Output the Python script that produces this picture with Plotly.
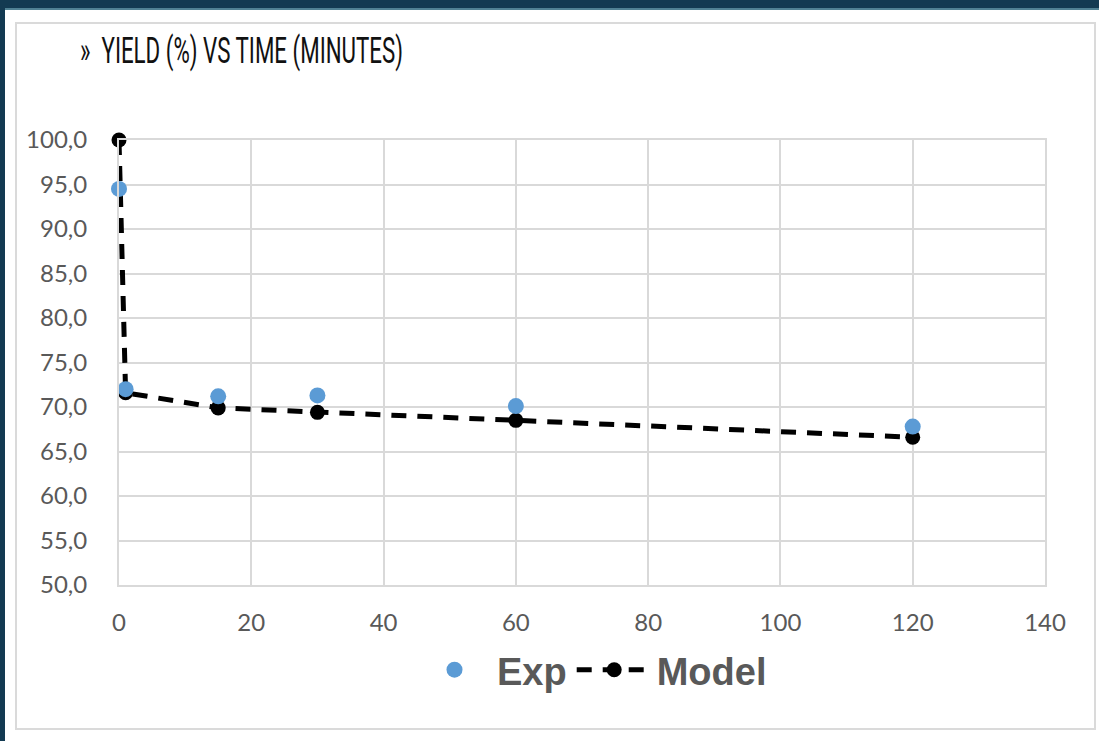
import plotly.graph_objects as go

# Data
time_exp = [0, 1, 15, 30, 60, 120]
yield_exp = [94.5, 72.0, 71.2, 71.3, 70.1, 67.8]
time_model = [0, 1, 15, 30, 60, 120]
yield_model = [100.0, 71.6, 69.9, 69.4, 68.5, 66.6]
x_ticks = [0, 20, 40, 60, 80, 100, 120, 140]
y_ticks = [50, 55, 60, 65, 70, 75, 80, 85, 90, 95, 100]
title_text = "»  YIELD (%) VS TIME (MINUTES)"

W, H = 1099, 741
L, R, T, B = 119, 1045, 140, 585
PW, PH = R - L, B - T

def px(x):
    return (x - L) / PW

def py(y):
    return (B - y) / PH

fig = go.Figure()

fig.add_trace(go.Scatter(
    x=time_model, y=yield_model, name="Model", mode="lines+markers",
    line=dict(color="black", width=5, dash="15px,11px"),
    marker=dict(color="black", size=15),
    cliponaxis=False, legendrank=2,
))
fig.add_trace(go.Scatter(
    x=time_exp, y=yield_exp, name="Exp", mode="markers",
    marker=dict(color="#5b9bd5", size=16),
    cliponaxis=False, legendrank=1,
))

shapes = [
    dict(type="rect", xref="paper", yref="paper", layer="below",
         x0=px(5), x1=px(W + 5), y0=py(10), y1=py(H + 5),
         fillcolor="white", line=dict(width=0)),
    dict(type="line", xref="paper", yref="paper", layer="below",
         x0=px(5), x1=px(W + 5), y0=py(9), y1=py(9),
         line=dict(color="#8fc9d6", width=1)),
    dict(type="rect", xref="paper", yref="paper", layer="below",
         x0=px(16), x1=px(1095), y0=py(23), y1=py(729),
         fillcolor="rgba(0,0,0,0)", line=dict(color="#dadada", width=2)),
]

axis_font = dict(family="Lato, 'Open Sans', sans-serif", size=24, color="#595959")

fig.update_layout(
    width=W, height=H,
    margin=dict(l=L, r=W - R, t=T, b=H - B),
    paper_bgcolor="#133a52",
    plot_bgcolor="white",
    separators=",.",
    shapes=shapes,
    showlegend=True,
    title=dict(
        text=title_text, xref="container", yref="container",
        x=80 / W, xanchor="left", y=1 - 50 / H, yanchor="middle",
        font=dict(family="Roboto, sans-serif", size=37, color="#111111"),
    ),
    legend=dict(
        orientation="h", xanchor="center", x=px(592), yanchor="middle", y=py(670),
        font=dict(family="'Liberation Sans', Arial, sans-serif", size=38, color="#595959", weight="bold"),
        bgcolor="rgba(0,0,0,0)", itemwidth=75,
    ),
    xaxis=dict(
        range=[0, 140], tickvals=x_ticks, ticktext=[str(v) for v in x_ticks],
        showgrid=True, gridcolor="#d9d9d9", gridwidth=2, zeroline=False,
        showline=True, mirror=True, linecolor="#d9d9d9", linewidth=2,
        tickfont=axis_font, ticks="", ticklabelstandoff=15,
    ),
    yaxis=dict(
        range=[50, 100], tickvals=y_ticks, tickformat=".1f",
        showgrid=True, gridcolor="#d9d9d9", gridwidth=2, zeroline=False,
        showline=True, mirror=True, linecolor="#d9d9d9", linewidth=2,
        tickfont=axis_font, ticks="", ticklabelstandoff=25,
    ),
)

post = """
document.body.style.margin = '0';
document.body.style.overflow = 'hidden';
var t = document.querySelector('.gtitle');
if (t) { t.setAttribute('textLength', '323'); t.setAttribute('lengthAdjust', 'spacingAndGlyphs'); }
"""

fig.write_html("out.html", post_script=post, config={"displayModeBar": False})
